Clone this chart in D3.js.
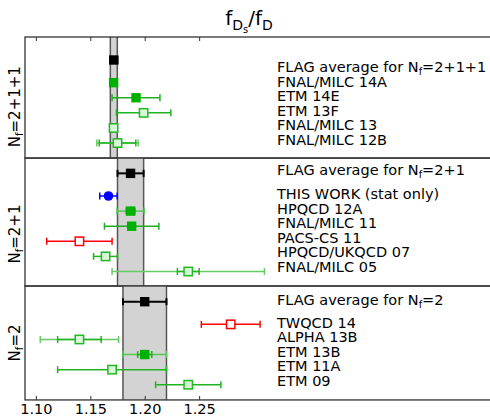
<!DOCTYPE html>
<html>
<head>
<meta charset="utf-8">
<script src="https://cdn.jsdelivr.net/npm/d3@7/dist/d3.min.js"></script>
<style>
    body { margin: 0; background: #fff; }
    text { font-family: "DejaVu Sans", sans-serif; }
</style>
</head>
<body>
<svg id="mainSvg" width="490" height="418"></svg>
<script>
// ---- data ----
const yLabels = ["N_f=2+1+1", "N_f=2+1", "N_f=2"];

const names4 = ["FLAG average for N_f=2+1+1", "FNAL/MILC 14A", "ETM 14E", "ETM 13F", "FNAL/MILC 13", "FNAL/MILC 12B"];
const values4 = [1.1716, 1.1714, 1.192, 1.199, 1.1714, 1.175];
const statErr4 = [0, 0.001, 0, 0, 0.001, 0.0168];
const totErr4 = [0.0032, 0.003, 0.022, 0.025, 0.003, 0.019];
const kinds4 = ["flag", "filled", "filled", "open", "open", "open"];

const names3 = ["FLAG average for N_f=2+1", "THIS WORK (stat only)", "HPQCD 12A", "FNAL/MILC 11", "PACS-CS 11", "HPQCD/UKQCD 07", "FNAL/MILC 05"];
const values3 = [1.187, 1.1667, 1.187, 1.188, 1.14, 1.164, 1.24];
const statErr3 = [0, 0, 0.004, 0, 0, 0, 0.01];
const totErr3 = [0.012, 0.008, 0.0125, 0.025, 0.03, 0.011, 0.07];
const kinds3 = ["flag", "this", "filled", "filled", "red", "open", "open"];

const names2 = ["FLAG average for N_f=2", "TWQCD 14", "ALPHA 13B", "ETM 13B", "ETM 11A", "ETM 09"];
const values2 = [1.20, 1.279, 1.14, 1.20, 1.17, 1.24];
const statErr2 = [0, 0, 0.02, 0.0065, 0, 0];
const totErr2 = [0.02, 0.027, 0.036, 0.02, 0.05, 0.03];
const kinds2 = ["flag", "red", "open", "filled", "open", "open"];

const xTicks = [1.10, 1.15, 1.20, 1.25];

// ---- layout ----
let svg = d3.select('#mainSvg');
const frameColor = "#333";
const rowStep = 15.1, gapRows = 1.5;
const padTop = [23, 15.3, 15.7], padBottom = [15, 14.5, 15.2];
const flagLabelDy = [6.5, -3.3, -2.4], firstLabelDy = [-1, -2, -1.8], labelStep = 14.5;
const yLabelDy = [9.2, 12, 0];
const top0 = 37, labelX = 277;

const x = d3.scaleLinear().domain([1.09, 1.52]).range([25, 493]);

const panels = [
    {names: names4, vals: values4, stat: statErr4, tot: totErr4, kinds: kinds4},
    {names: names3, vals: values3, stat: statErr3, tot: totErr3, kinds: kinds3},
    {names: names2, vals: values2, stat: statErr2, tot: totErr2, kinds: kinds2}
];

const styles = {
    flag:   {bar: "#000", outer: "#000", bw: 2},
    filled: {bar: "#1fae1f", outer: "#55c755", bw: 1.5},
    open:   {bar: "#22b322", outer: "#66cc66", bw: 1.5},
    red:    {bar: "#ff0000", outer: "#ff0000", bw: 1.5},
    this:   {bar: "#0000ff", outer: "#0000ff", bw: 1.5}
};

// text with N_f as subscript
function richText(sel, str, size) {
    const parts = str.split("N_f");
    sel.append("tspan").text(parts[0]);
    if (parts.length > 1) {
        sel.append("tspan").text("N");
        sel.append("tspan").attr("font-size", size * 0.68).attr("dy", 3).text("f");
        sel.append("tspan").attr("dy", -3).text(parts[1]);
    }
}

// title f_{D_s}/f_D
const title = svg.append("text")
    .attr("x", 249).attr("y", 25)
    .attr("text-anchor", "middle")
    .attr("font-size", 20);
title.append("tspan").text("f");
title.append("tspan").attr("font-size", 14).attr("dy", 5).text("D");
title.append("tspan").attr("font-size", 10).attr("dy", 3).text("s");
title.append("tspan").attr("font-size", 20).attr("dy", -8).text("/f");
title.append("tspan").attr("font-size", 14).attr("dy", 5).text("D");

let yTop = top0;
panels.forEach((p, pi) => {
    const n = p.vals.length;
    const height = padTop[pi] + (gapRows + n - 2) * rowStep + padBottom[pi];
    const rowY = d3.scaleLinear().domain([0, 1]).range([yTop + padTop[pi], yTop + padTop[pi] + rowStep]);
    const pos = i => rowY(i === 0 ? 0 : gapRows + i - 1);
    const g = svg.append("g");

    // FLAG band
    const lo = x(p.vals[0] - p.tot[0]), hi = x(p.vals[0] + p.tot[0]);
    g.append("rect")
        .attr("x", lo).attr("y", yTop)
        .attr("width", hi - lo).attr("height", height)
        .attr("fill", "#d3d3d3");
    g.selectAll("line.edge").data([lo, hi]).join("line")
        .attr("class", "edge")
        .attr("x1", d => d).attr("x2", d => d)
        .attr("y1", yTop).attr("y2", yTop + height)
        .attr("stroke", "#555").attr("stroke-width", 1.5);

    // frame
    g.append("rect")
        .attr("x", x.range()[0]).attr("y", yTop)
        .attr("width", x.range()[1] - x.range()[0]).attr("height", height)
        .attr("fill", "none")
        .attr("stroke", frameColor).attr("stroke-width", 1.3);

    // error bars: total first (lighter), then stat
    p.vals.forEach((v, i) => {
        const st = styles[p.kinds[i]];
        const y = pos(i);
        const bars = [];
        if (p.tot[i] > 0) bars.push({e: p.tot[i], c: p.stat[i] > 0 ? st.outer : st.bar});
        if (p.stat[i] > 0) bars.push({e: p.stat[i], c: st.bar});
        bars.forEach(b => {
            g.append("line")
                .attr("x1", x(v - b.e)).attr("x2", x(v + b.e))
                .attr("y1", y).attr("y2", y)
                .attr("stroke", b.c).attr("stroke-width", st.bw);
            [v - b.e, v + b.e].forEach(c => {
                g.append("line")
                    .attr("x1", x(c)).attr("x2", x(c))
                    .attr("y1", y - 3.5).attr("y2", y + 3.5)
                    .attr("stroke", b.c).attr("stroke-width", st.bw);
            });
        });

        // markers
        const k = p.kinds[i];
        if (k === "this") {
            g.append("circle").attr("cx", x(v)).attr("cy", y).attr("r", 4.8).attr("fill", "#0000ff");
        } else {
            const s = (k === "flag" || k === "filled") ? 9.4 : 8.4;
            const m = g.append("rect")
                .attr("x", x(v) - s / 2).attr("y", y - s / 2)
                .attr("width", s).attr("height", s);
            if (k === "flag") m.attr("fill", "#000");
            else if (k === "filled") m.attr("fill", "#00b000");
            else if (k === "open") m.attr("fill", "#d8f6d8").attr("stroke", "#22b822").attr("stroke-width", 1.5);
            else m.attr("fill", "#fff").attr("stroke", "#ff0000").attr("stroke-width", 1.5);
        }

        // label
        const ly = i === 0 ? pos(0) + flagLabelDy[pi] : pos(1) + firstLabelDy[pi] + (i - 1) * labelStep;
        const t = g.append("text")
            .attr("x", labelX).attr("y", ly + 5.2)
            .attr("font-size", 14.5);
        richText(t, p.names[i], 14.5);
    });

    // panel y label
    const yl = svg.append("text")
        .attr("transform", `translate(20,${yTop + height / 2 + yLabelDy[pi]}) rotate(-90)`)
        .attr("text-anchor", "middle")
        .attr("font-size", 15);
    richText(yl, yLabels[pi], 15);

    yTop += height;
});

// axes: inward ticks top and bottom
const axB = svg.append("g")
    .attr("transform", `translate(0,${yTop})`)
    .call(d3.axisBottom(x).tickValues(xTicks).tickFormat(d3.format(".2f")).tickSize(-4).tickPadding(4));
axB.select(".domain").remove();
axB.selectAll("line").attr("stroke", frameColor);
axB.selectAll("text").attr("font-size", 14.5).attr("font-family", "DejaVu Sans").attr("fill", "#000");

const axT = svg.append("g")
    .attr("transform", `translate(0,${top0})`)
    .call(d3.axisTop(x).tickValues(xTicks).tickFormat("").tickSize(-4));
axT.select(".domain").remove();
axT.selectAll("line").attr("stroke", frameColor);
</script>
</body>
</html>
